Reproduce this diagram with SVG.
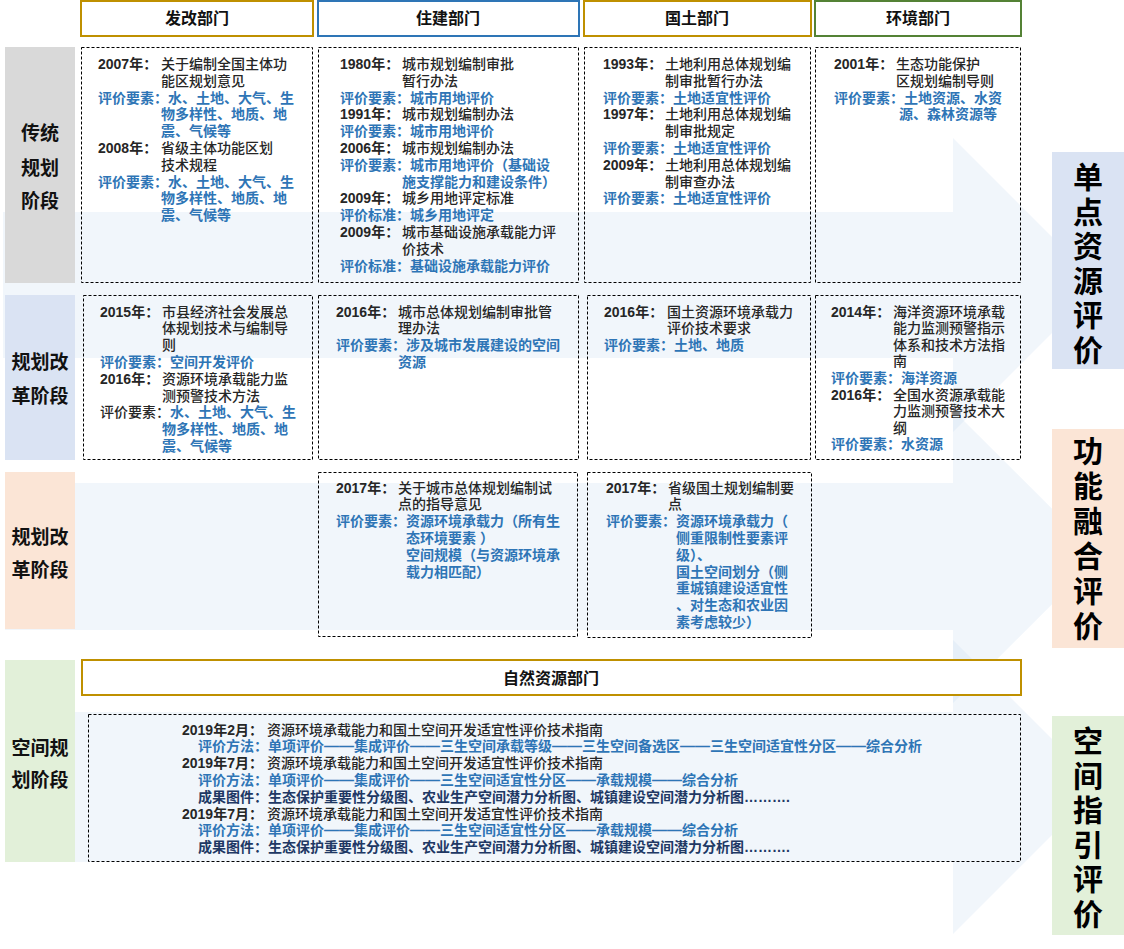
<svg xmlns="http://www.w3.org/2000/svg" width="1124" height="949" viewBox="0 0 1124 949">
<style>
text{font-family:"Liberation Sans","Noto Sans CJK SC",sans-serif}
.arr{fill:#BDD7EE;fill-opacity:0.22}
.hd{fill:#fff;stroke-width:2}
.gold{stroke:#BF9000}
.blu{stroke:#2E75B6}
.grn{stroke:#548235}
.hdt{font-size:16px;font-weight:bold;fill:#111;text-anchor:middle}
.cell{fill:none;stroke:#000;stroke-width:1;stroke-dasharray:3 2}
.t{font-size:14px;fill:#262626;font-weight:500}
.y{font-weight:bold}
.b{fill:#2E75B6;font-weight:bold}
.n{fill:#203864;font-weight:bold}
.st{font-size:19px;font-weight:bold;fill:#111;text-anchor:middle}
.ev{font-size:30px;font-weight:bold;fill:#000;text-anchor:middle}
</style>

<g id="arrows">
<path class="arr" d="M3,212 H953 V138 L1100,285 L953,432 V358 H3 Z"/>
<path class="arr" d="M5,483 H953 V410 L1100,556.5 L953,703 V630 H5 Z"/>
<path class="arr" d="M5,712 H953 V640 L1100,787 L953,934 V862 H5 Z"/>
</g>

<g id="header-fagai"><rect class="hd gold" x="81" y="1" width="232" height="35"/><text class="hdt" x="197" y="24">发改部门</text></g>
<g id="header-zhujian"><rect class="hd blu" x="318" y="1" width="261" height="35"/><text class="hdt" x="448" y="24">住建部门</text></g>
<g id="header-guotu"><rect class="hd gold" x="584" y="1" width="227" height="35"/><text class="hdt" x="697" y="24">国土部门</text></g>
<g id="header-huanjing"><rect class="hd grn" x="815" y="1" width="206" height="35"/><text class="hdt" x="918" y="24">环境部门</text></g>

<g id="stage-traditional"><rect x="5" y="47" width="70" height="236" fill="#D9D9D9"/>
<text class="st"><tspan x="40" y="140">传统</tspan><tspan x="40" y="175">规划</tspan><tspan x="40" y="208">阶段</tspan></text></g>
<g id="stage-reform1"><rect x="5" y="295" width="70" height="165" fill="#DAE3F3"/>
<text class="st"><tspan x="40" y="369">规划改</tspan><tspan x="40" y="403">革阶段</tspan></text></g>
<g id="stage-reform2"><rect x="5" y="472" width="70" height="157" fill="#FBE5D6"/>
<text class="st"><tspan x="40" y="544">规划改</tspan><tspan x="40" y="577">革阶段</tspan></text></g>
<g id="stage-spatial"><rect x="5" y="660" width="70" height="202" fill="#E2F0D9"/>
<text class="st"><tspan x="40" y="755">空间规</tspan><tspan x="40" y="787">划阶段</tspan></text></g>

<g id="cell-r1-fagai">
<rect class="cell" x="81.5" y="47.5" width="231" height="235"/>
<text class="t"><tspan class="y" x="98" y="69">2007年：</tspan><tspan x="161">关于编制全国主体功</tspan><tspan x="161" y="85.8">能区规划意见</tspan><tspan class="b" x="98" y="102.6">评价要素：水、土地、大气、生</tspan><tspan class="b" x="161" y="119.4">物多样性、地质、地</tspan><tspan class="b" x="161" y="136.2">震、气候等</tspan><tspan class="y" x="98" y="153">2008年：</tspan><tspan x="161">省级主体功能区划</tspan><tspan x="161" y="169.8">技术规程</tspan><tspan class="b" x="98" y="186.6">评价要素：水、土地、大气、生</tspan><tspan class="b" x="161" y="203.4">物多样性、地质、地</tspan><tspan class="b" x="161" y="220.2">震、气候等</tspan></text>
</g>

<g id="cell-r1-zhujian">
<rect class="cell" x="318.5" y="47.5" width="260" height="235"/>
<text class="t"><tspan class="y" x="340" y="69">1980年：</tspan><tspan x="402">城市规划编制审批</tspan><tspan x="402" y="85.8">暂行办法</tspan><tspan class="b" x="340" y="102.6">评价要素：城市用地评价</tspan><tspan class="y" x="340" y="119.4">1991年：</tspan><tspan x="402">城市规划编制办法</tspan><tspan class="b" x="340" y="136.2">评价要素：城市用地评价</tspan><tspan class="y" x="340" y="153">2006年：</tspan><tspan x="402">城市规划编制办法</tspan><tspan class="b" x="340" y="169.8">评价要素：城市用地评价（基础设</tspan><tspan class="b" x="402" y="186.6">施支撑能力和建设条件）</tspan><tspan class="y" x="340" y="203.4">2009年：</tspan><tspan x="402">城乡用地评定标准</tspan><tspan class="b" x="340" y="220.2">评价标准：城乡用地评定</tspan><tspan class="y" x="340" y="237">2009年：</tspan><tspan x="402">城市基础设施承载能力评</tspan><tspan x="402" y="253.8">价技术</tspan><tspan class="b" x="340" y="270.6">评价标准：基础设施承载能力评价</tspan></text>
</g>

<g id="cell-r1-guotu">
<rect class="cell" x="584.5" y="47.5" width="226" height="235"/>
<text class="t"><tspan class="y" x="603" y="69">1993年：</tspan><tspan x="665">土地利用总体规划编</tspan><tspan x="665" y="85.8">制审批暂行办法</tspan><tspan class="b" x="603" y="102.6">评价要素：土地适宜性评价</tspan><tspan class="y" x="603" y="119.4">1997年：</tspan><tspan x="665">土地利用总体规划编</tspan><tspan x="665" y="136.2">制审批规定</tspan><tspan class="b" x="603" y="153">评价要素：土地适宜性评价</tspan><tspan class="y" x="603" y="169.8">2009年：</tspan><tspan x="665">土地利用总体规划编</tspan><tspan x="665" y="186.6">制审查办法</tspan><tspan class="b" x="603" y="203.4">评价要素：土地适宜性评价</tspan></text>
</g>

<g id="cell-r1-huanjing">
<rect class="cell" x="815.5" y="47.5" width="205" height="235"/>
<text class="t"><tspan class="y" x="834" y="69">2001年：</tspan><tspan x="896">生态功能保护</tspan><tspan x="896" y="85.8">区规划编制导则</tspan><tspan class="b" x="834" y="102.6">评价要素：土地资源、水资</tspan><tspan class="b" x="899" y="119.4">源、森林资源等</tspan></text>
</g>

<g id="cell-r2-fagai">
<rect class="cell" x="83.5" y="295.5" width="229" height="164"/>
<text class="t"><tspan class="y" x="100" y="316.5">2015年：</tspan><tspan x="162">市县经济社会发展总</tspan><tspan x="162" y="333.3">体规划技术与编制导</tspan><tspan x="162" y="350.1">则</tspan><tspan class="b" x="100" y="366.9">评价要素：空间开发评价</tspan><tspan class="y" x="100" y="383.7">2016年：</tspan><tspan x="162">资源环境承载能力监</tspan><tspan x="162" y="400.5">测预警技术方法</tspan><tspan x="100" y="417.3">评价要素：</tspan><tspan class="b">水、土地、大气、生</tspan><tspan class="b" x="162" y="434.1">物多样性、地质、地</tspan><tspan class="b" x="162" y="450.9">震、气候等</tspan></text>
</g>

<g id="cell-r2-zhujian">
<rect class="cell" x="318.5" y="295.5" width="260" height="164"/>
<text class="t"><tspan class="y" x="336" y="316.5">2016年：</tspan><tspan x="398">城市总体规划编制审批管</tspan><tspan x="398" y="333.3">理办法</tspan><tspan class="b" x="336" y="350.1">评价要素：涉及城市发展建设的空间</tspan><tspan class="b" x="398" y="366.9">资源</tspan></text>
</g>

<g id="cell-r2-guotu">
<rect class="cell" x="587.5" y="295.5" width="223" height="164"/>
<text class="t"><tspan class="y" x="604" y="316.5">2016年：</tspan><tspan x="667">国土资源环境承载力</tspan><tspan x="667" y="333.3">评价技术要求</tspan><tspan class="b" x="604" y="350.1">评价要素：土地、地质</tspan></text>
</g>

<g id="cell-r2-huanjing">
<rect class="cell" x="815.5" y="295.5" width="205" height="164"/>
<text class="t"><tspan class="y" x="831" y="316.5">2014年：</tspan><tspan x="893">海洋资源环境承载</tspan><tspan x="893" y="333.1">能力监测预警指示</tspan><tspan x="893" y="349.7">体系和技术方法指</tspan><tspan x="893" y="366.3">南</tspan><tspan class="b" x="831" y="382.9">评价要素：海洋资源</tspan><tspan class="y" x="831" y="399.5">2016年：</tspan><tspan x="893">全国水资源承载能</tspan><tspan x="893" y="416.1">力监测预警技术大</tspan><tspan x="893" y="432.7">纲</tspan><tspan class="b" x="831" y="449.3">评价要素：水资源</tspan></text>
</g>

<g id="cell-r3-zhujian">
<rect class="cell" x="318.5" y="472.5" width="259" height="164"/>
<text class="t"><tspan class="y" x="336" y="492.5">2017年：</tspan><tspan x="398">关于城市总体规划编制试</tspan><tspan x="398" y="509.3">点的指导意见</tspan><tspan class="b" x="336" y="526.1">评价要素：资源环境承载力（所有生</tspan><tspan class="b" x="406" y="542.9">态环境要素 ）</tspan><tspan class="b" x="406" y="559.7">空间规模（与资源环境承</tspan><tspan class="b" x="406" y="576.5">载力相匹配）</tspan></text>
</g>

<g id="cell-r3-guotu">
<rect class="cell" x="587.5" y="472.5" width="224" height="165"/>
<text class="t"><tspan class="y" x="606" y="492.5">2017年：</tspan><tspan x="668">省级国土规划编制要</tspan><tspan x="668" y="509.3">点</tspan><tspan class="b" x="606" y="526.1">评价要素：资源环境承载力（</tspan><tspan class="b" x="676" y="542.9">侧重限制性要素评</tspan><tspan class="b" x="676" y="559.7">级）、</tspan><tspan class="b" x="676" y="576.5">国土空间划分（侧</tspan><tspan class="b" x="676" y="593.3">重城镇建设适宜性</tspan><tspan class="b" x="676" y="610.1">、对生态和农业因</tspan><tspan class="b" x="676" y="626.9">素考虑较少）</tspan></text>
</g>

<g id="header-ziran"><rect class="hd gold" x="82" y="660" width="939" height="35"/><text class="hdt" x="551" y="684">自然资源部门</text></g>

<g id="cell-r4-ziran">
<rect class="cell" x="88.5" y="714.5" width="932" height="147"/>
<text class="t"><tspan class="y" x="182" y="734.5">2019年2月：</tspan><tspan x="267">资源环境承载能力和国土空间开发适宜性评价技术指南</tspan><tspan class="b" x="198" y="751.3">评价方法：单项评价<tspan textLength="30" lengthAdjust="spacingAndGlyphs">——</tspan>集成评价<tspan textLength="30" lengthAdjust="spacingAndGlyphs">——</tspan>三生空间承载等级<tspan textLength="30" lengthAdjust="spacingAndGlyphs">——</tspan>三生空间备选区<tspan textLength="30" lengthAdjust="spacingAndGlyphs">——</tspan>三生空间适宜性分区<tspan textLength="30" lengthAdjust="spacingAndGlyphs">——</tspan>综合分析</tspan><tspan class="y" x="182" y="768.1">2019年7月：</tspan><tspan x="267">资源环境承载能力和国土空间开发适宜性评价技术指南</tspan><tspan class="b" x="198" y="784.9">评价方法：单项评价<tspan textLength="30" lengthAdjust="spacingAndGlyphs">——</tspan>集成评价<tspan textLength="30" lengthAdjust="spacingAndGlyphs">——</tspan>三生空间适宜性分区<tspan textLength="30" lengthAdjust="spacingAndGlyphs">——</tspan>承载规模<tspan textLength="30" lengthAdjust="spacingAndGlyphs">——</tspan>综合分析</tspan><tspan class="n" x="198" y="801.7">成果图件：生态保护重要性分级图、农业生产空间潜力分析图、城镇建设空间潜力分析图……….</tspan><tspan class="y" x="182" y="818.5">2019年7月：</tspan><tspan x="267">资源环境承载能力和国土空间开发适宜性评价技术指南</tspan><tspan class="b" x="198" y="835.3">评价方法：单项评价<tspan textLength="30" lengthAdjust="spacingAndGlyphs">——</tspan>集成评价<tspan textLength="30" lengthAdjust="spacingAndGlyphs">——</tspan>三生空间适宜性分区<tspan textLength="30" lengthAdjust="spacingAndGlyphs">——</tspan>承载规模<tspan textLength="30" lengthAdjust="spacingAndGlyphs">——</tspan>综合分析</tspan><tspan class="n" x="198" y="852.1">成果图件：生态保护重要性分级图、农业生产空间潜力分析图、城镇建设空间潜力分析图……….</tspan></text>
</g>

<g id="eval-single"><rect x="1052" y="152" width="72" height="217" fill="#DAE3F3"/>
<text class="ev"><tspan x="1088" y="188">单</tspan><tspan x="1088" y="222.5">点</tspan><tspan x="1088" y="257">资</tspan><tspan x="1088" y="291.5">源</tspan><tspan x="1088" y="326">评</tspan><tspan x="1088" y="360.5">价</tspan></text></g>
<g id="eval-fusion"><rect x="1052" y="429" width="72" height="219" fill="#FBE5D6"/>
<text class="ev"><tspan x="1088" y="462">功</tspan><tspan x="1088" y="497">能</tspan><tspan x="1088" y="532">融</tspan><tspan x="1088" y="567">合</tspan><tspan x="1088" y="602">评</tspan><tspan x="1088" y="637">价</tspan></text></g>
<g id="eval-spatial"><rect x="1052" y="716" width="72" height="219" fill="#E2F0D9"/>
<text class="ev"><tspan x="1088" y="752">空</tspan><tspan x="1088" y="786.5">间</tspan><tspan x="1088" y="821">指</tspan><tspan x="1088" y="855.5">引</tspan><tspan x="1088" y="890">评</tspan><tspan x="1088" y="924.5">价</tspan></text></g>
</svg>
